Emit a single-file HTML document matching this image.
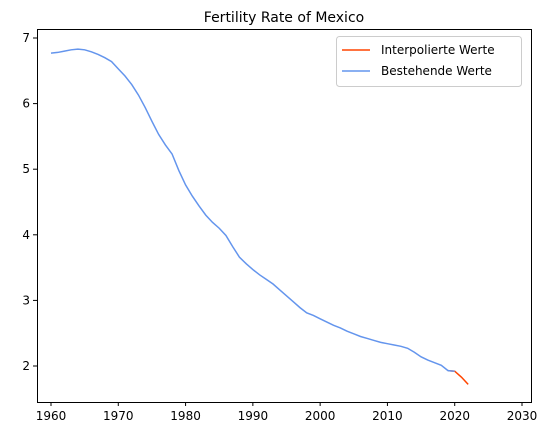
<!DOCTYPE html>
<html><head><meta charset="utf-8"><style>
body{margin:0;background:#fff;font-family:"Liberation Sans","DejaVu Sans",sans-serif;}
svg text{font-family:"DejaVu Sans","Liberation Sans",sans-serif;}
</style></head><body>
<svg id="chart" width="552" height="435" xmlns="http://www.w3.org/2000/svg">
<rect width="552" height="435" fill="#fff"/>
<text x="284" y="22" font-size="14" text-anchor="middle">Fertility Rate of Mexico</text>
<g id="plot"></g>
<rect x="37.5" y="29.5" width="494" height="373" fill="none" stroke="#000" stroke-width="1"/>
<g>
<rect x="336.5" y="36.5" width="185" height="50" rx="3" fill="#fff" stroke="#ccc"/>
<line x1="342" y1="50" x2="370" y2="50" stroke="#ff4500" stroke-width="1.5"/>
<text x="381" y="54" font-size="12">Interpolierte Werte</text>
<line x1="342" y1="71" x2="370" y2="71" stroke="#6495ed" stroke-width="1.5"/>
<text x="381" y="75" font-size="12">Bestehende Werte</text>
</g>
</svg>
<script>
const xTicks=[1960,1970,1980,1990,2000,2010,2020,2030];
const yTicks=[2,3,4,5,6,7];
const years=[1960,1961,1962,1963,1964,1965,1966,1967,1968,1969,1970,1971,1972,1973,1974,1975,1976,1977,1978,1979,1980,1981,1982,1983,1984,1985,1986,1987,1988,1989,1990,1991,1992,1993,1994,1995,1996,1997,1998,1999,2000,2001,2002,2003,2004,2005,2006,2007,2008,2009,2010,2011,2012,2013,2014,2015,2016,2017,2018,2019,2020];
const existing=[6.77,6.78,6.80,6.82,6.83,6.82,6.79,6.75,6.70,6.64,6.53,6.42,6.29,6.13,5.94,5.73,5.53,5.37,5.23,4.98,4.76,4.59,4.44,4.30,4.19,4.10,3.99,3.82,3.66,3.56,3.47,3.39,3.32,3.25,3.16,3.07,2.98,2.89,2.81,2.77,2.72,2.67,2.62,2.58,2.53,2.49,2.45,2.42,2.39,2.36,2.34,2.32,2.30,2.27,2.21,2.14,2.09,2.05,2.01,1.93,1.92];
const interpYears=[2019,2020,2021,2022];
const interpolated=[1.93,1.92,1.83,1.72];
const ns="http://www.w3.org/2000/svg";
const X=v=>51+(v-1960)*(471/70);
const Y=v=>366-(v-2)*65.6;
const g=document.getElementById('plot');
function mk(t,a){const e=document.createElementNS(ns,t);for(const k in a)e.setAttribute(k,a[k]);g.appendChild(e);return e;}
xTicks.forEach(t=>{
 const l=mk('line',{x1:X(t),x2:X(t),y1:402,y2:406,stroke:'#000'});
 
 
 const s=mk('text',{x:X(t),y:420,'font-size':12,'text-anchor':'middle'});s.textContent=t;
 
 
});
yTicks.forEach(t=>{
 const l=mk('line',{x1:33,x2:37,y1:Y(t),y2:Y(t),stroke:'#000'});
 
 
 const s=mk('text',{x:30,y:Y(t)+4,'font-size':12,'text-anchor':'end'});s.textContent=t;
 
 
});
const pi=mk('polyline',{points:interpYears.map((y,i)=>X(y)+','+Y(interpolated[i])).join(' '),fill:'none',stroke:'#ff4500','stroke-width':1.5});


const pe=mk('polyline',{points:years.map((y,i)=>X(y)+','+Y(existing[i])).join(' '),fill:'none',stroke:'#6495ed','stroke-width':1.5});


</script>
</body></html>
